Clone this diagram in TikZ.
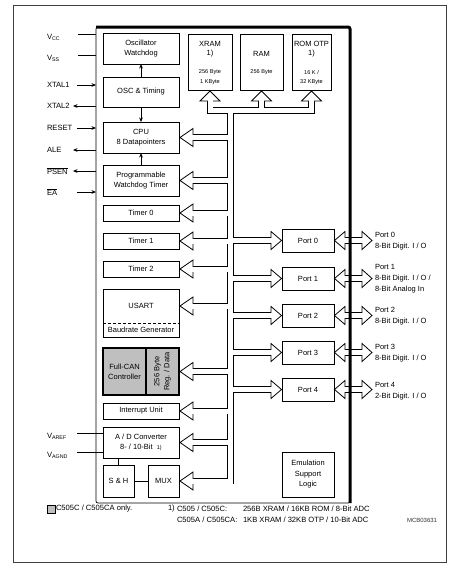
\documentclass[tikz,border=0pt]{standalone}
\usepackage{fontspec}
\setmainfont{Liberation Sans}
\usetikzlibrary{arrows.meta,calc}
\begin{document}
\begin{tikzpicture}[x=1pt,y=-1pt,
  every node/.style={inner sep=0pt, outer sep=0pt},
  txt/.style={font=\fontsize{7.5}{10}\selectfont, align=center},
  small/.style={font=\fontsize{5.6}{7}\selectfont, align=center},
  blk/.style={draw, line width=0.8pt, anchor=north west, txt},
  canblk/.style={blk, fill=gray!50, line width=1.3pt},
  thinln/.style={line width=0.6pt},
  pinarr/.style={line width=0.6pt, -{Stealth[length=4.5pt,width=3.6pt]}},
  busout/.style={line width=6.6pt, line cap=rect, black},
  busin/.style={line width=5pt, line cap=rect, white},
  head/.style={draw, fill=white, line width=0.8pt, line join=miter},
  pinlbl/.style={font=\fontsize{7.6}{9}\selectfont, anchor=west},
  portlbl/.style={font=\fontsize{7.5}{11}\selectfont, align=left, anchor=west},
  leg/.style={font=\fontsize{7.6}{11}\selectfont, anchor=west},
]
\useasboundingbox (0,0) rectangle (463,565);
\fill[white] (0,0) rectangle (463,565);
\draw[line width=0.8pt, black!75] (13,5) rectangle (446,562);

% chip outline placeholder node
\node[minimum width=254pt, minimum height=476pt, anchor=north west] (chip) at (96,27) {};

% ---- blocks ----
\node[blk, minimum width=76pt, minimum height=31pt] (oscwd) at (103,33) {Oscillator\\Watchdog};
\node[blk, minimum width=76pt, minimum height=30pt] (osct) at (103,77) {OSC \& Timing};
\node[blk, minimum width=76pt, minimum height=31pt] (cpu) at (103,122) {CPU\\8 Datapointers};
\node[blk, minimum width=76pt, minimum height=31pt] (pwd) at (103,165) {Programmable\\Watchdog Timer};
\node[blk, minimum width=76pt, minimum height=16pt] (t0) at (103,205) {Timer 0};
\node[blk, minimum width=76pt, minimum height=16pt] (t1) at (103,233) {Timer 1};
\node[blk, minimum width=76pt, minimum height=16pt] (t2) at (103,261) {Timer 2};
\node[txt, minimum width=76pt, minimum height=34pt, anchor=north west] (usart) at (103,289) {USART};
\node[txt, minimum width=76pt, minimum height=14pt, anchor=north west] (baud) at (103,323) {Baudrate Generator};
\draw[line width=0.8pt] (usart.north west) rectangle (baud.south east);
\draw[line width=0.8pt, dashed, dash pattern=on 3pt off 2pt] (usart.south west) -- (usart.south east);
\node[canblk, minimum width=43pt, minimum height=47pt] (canl) at (103,348) {Full-CAN\\Controller};
\node[canblk, minimum width=33pt, minimum height=47pt] (canr) at (146,348) {};
\node[txt, rotate=90] at (canr.center) {256 Byte\\Reg. / Data};
\node[blk, minimum width=76pt, minimum height=16pt] (intr) at (103,403) {Interrupt Unit};
\node[blk, minimum width=76pt, minimum height=31pt] (adc) at (103,427) {A / D Converter\\8- / 10-Bit\ \ {\fontsize{5.5}{6}\selectfont 1)}};
\node[blk, minimum width=31pt, minimum height=32pt] (sh) at (103,465) {S \& H};
\node[blk, minimum width=31pt, minimum height=32pt] (mux) at (148,465) {MUX};

\node[blk, minimum width=44pt, minimum height=56pt] (xram) at (188,34) {};
\node[txt] at (210,44) {XRAM};
\node[txt] at (210,54) {1)};
\node[small] at (210,72) {256 Byte};
\node[small] at (210,82) {1 KByte};
\node[blk, minimum width=43pt, minimum height=56pt] (ram) at (240,34) {};
\node[txt] at (261.5,54) {RAM};
\node[small] at (261.5,72) {256 Byte};
\node[blk, minimum width=39pt, minimum height=56pt] (rom) at (292,34) {};
\node[txt] at (311.5,44) {ROM OTP};
\node[txt] at (311.5,54) {1)};
\node[small] at (311.5,72) {16 K /};
\node[small] at (311.5,82) {32 KByte};

\node[blk, minimum width=52pt, minimum height=23pt] (p0) at (282,229) {Port 0};
\node[blk, minimum width=52pt, minimum height=23pt] (p1) at (282,267) {Port 1};
\node[blk, minimum width=52pt, minimum height=23pt] (p2) at (282,304) {Port 2};
\node[blk, minimum width=52pt, minimum height=23pt] (p3) at (282,341) {Port 3};
\node[blk, minimum width=52pt, minimum height=23pt] (p4) at (282,378) {Port 4};

\node[blk, minimum width=52pt, minimum height=45pt, font=\fontsize{7.5}{10.5}\selectfont] (emu) at (282,452) {Emulation\\Support\\Logic};

% ---- internal thin connections ----
\draw[pinarr] (osct.north) -- (oscwd.south);
\draw[pinarr] (osct.south) -- (cpu.north);
\draw[pinarr] (pwd.north) -- (cpu.south);
\draw[thinln] (adc.south -| sh.north) -- (sh.north);
\draw[thinln] (sh.east) -- (mux.west);

% ---- bus ----
\coordinate (bus) at (230.5,110.5);
\newcommand\drawbus[1]{%
  \draw[#1] (bus) -- (bus |- mux.east);
  \draw[#1] (xram.south |- bus) -- (rom.south |- bus);
  \foreach \m in {xram,ram,rom}{
    \draw[#1] (\m.south |- bus) -- ($(\m.south)+(0,11)$);
  }
  \foreach \n in {cpu,pwd,t0,t1,t2,usart,canr,intr,adc,mux}{
    \draw[#1] (bus |- \n.east) -- ($(\n.east)+(14,0)$);
  }
  \foreach \p in {p0,p1,p2,p3,p4}{
    \draw[#1] (bus |- \p.west) -- ($(\p.west)+(-10,0)$);
    \draw[#1] ($(\p.east)+(11,0)$) -- ($(\p.east)+(28,0)$);
  }
}
\drawbus{busout}
\foreach \m in {xram,ram,rom}{
  \draw[head] ($(\m.south)+(0,1)$) -- ($(\m.south)+(10,11)$) -- ($(\m.south)+(-10,11)$) -- cycle;
}
\foreach \n in {cpu,pwd,t0,t1,t2,usart,canr,intr,adc,mux}{
  \draw[head] ($(\n.east)+(1,0)$) -- ($(\n.east)+(14,-9)$) -- ($(\n.east)+(14,9)$) -- cycle;
}
\foreach \p in {p0,p1,p2,p3,p4}{
  \draw[head] ($(\p.west)+(-0.5,0)$) -- ($(\p.west)+(-11,-9)$) -- ($(\p.west)+(-11,9)$) -- cycle;
  \draw[head] ($(\p.east)+(0.5,0)$) -- ($(\p.east)+(11,-9)$) -- ($(\p.east)+(11,9)$) -- cycle;
  \draw[head] ($(\p.east)+(38,0)$) -- ($(\p.east)+(28,-9)$) -- ($(\p.east)+(28,9)$) -- cycle;
}
\drawbus{busin}

% ---- chip frame ----
\draw[line width=0.7pt, rounded corners=2pt] (chip.north west) rectangle (chip.south east);
\draw[line width=3pt, rounded corners=2pt] (chip.north west) -- (chip.north east) -- (chip.south east);

% ---- port labels ----
\node[portlbl] (l0) at (375,241) {Port 0\\8-Bit Digit. I / O};
\node[portlbl] (l1) at (375,279) {Port 1\\8-Bit Digit. I / O /\\8-Bit Analog In};
\node[portlbl] (l2) at (375,316) {Port 2\\8-Bit Digit. I / O};
\node[portlbl] (l3) at (375,353) {Port 3\\8-Bit Digit. I / O};
\node[portlbl] (l4) at (375,391) {Port 4\\2-Bit Digit. I / O};

% ---- pins ----
\node[pinlbl] (vcc) at (47,37) {V\textsubscript{CC}};
\node[pinlbl] (vss) at (47,58) {V\textsubscript{SS}};
\node[pinlbl] (xtal1) at (47,85) {XTAL1};
\node[pinlbl] (xtal2) at (47,106) {XTAL2};
\node[pinlbl] (reset) at (47,128) {RESET};
\node[pinlbl] (ale) at (47,150) {ALE};
\node[pinlbl] (psen) at (47,171) {$\overline{\hbox{PSEN}}$};
\node[pinlbl] (ea) at (47,192) {$\overline{\hbox{EA}}$};
\node[pinlbl] (varef) at (47,436) {V\textsubscript{AREF}};
\node[pinlbl] (vagnd) at (47,455) {V\textsubscript{AGND}};

\coordinate (cvcc) at (78,34);
\coordinate (cvss) at (78,55);
\coordinate (cx1) at (77,85);
\coordinate (cx2) at (73,106);
\coordinate (crst) at (77,128);
\coordinate (cale) at (73,150);
\coordinate (cpsen) at (73,171);
\coordinate (cea) at (77,192);
\coordinate (caref) at (77,433);
\coordinate (cagnd) at (77,452);
\draw[thinln] (cvcc) -- (cvcc -| chip.west);
\draw[thinln] (cvss) -- (cvss -| chip.west);
\draw[pinarr] (cx1) -- (cx1 -| chip.west);
\draw[pinarr] (cx2 -| chip.west) -- (cx2);
\draw[pinarr] (crst) -- (crst -| chip.west);
\draw[pinarr] (cale -| chip.west) -- (cale);
\draw[pinarr] (cpsen -| chip.west) -- (cpsen);
\draw[pinarr] (cea) -- (cea -| chip.west);
\draw[thinln] (caref) -- (caref -| adc.west);
\draw[thinln] (cagnd) -- (cagnd -| adc.west);

% ---- legend ----
\node[draw, fill=gray!50, line width=0.7pt, minimum width=8pt, minimum height=8pt] (gsq) at (51,509) {};
\node[leg] at (56,509) {C505C / C505CA only.};
\node[leg] at (168,509) {1)};
\node[leg] at (177,509) {C505 / C505C:};
\node[leg] at (243,509) {256B XRAM / 16KB ROM / 8-Bit ADC};
\node[leg] at (177,520) {C505A / C505CA:};
\node[leg] at (243,520) {1KB XRAM / 32KB OTP / 10-Bit ADC};
\node[anchor=west, font=\fontsize{6}{7}\selectfont, black!80] at (407,520) {MCB03631};
\end{tikzpicture}
\end{document}
